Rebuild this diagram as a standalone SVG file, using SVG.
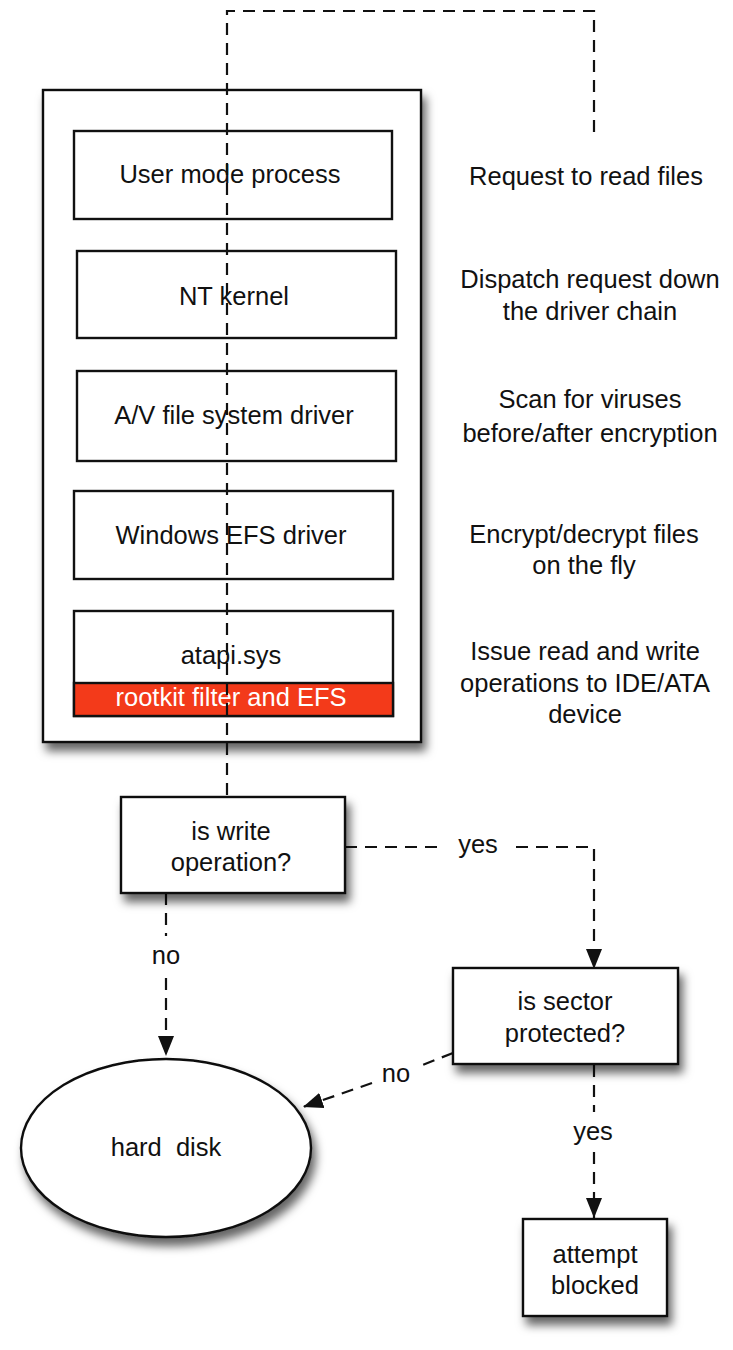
<svg xmlns="http://www.w3.org/2000/svg" width="733" height="1350" viewBox="0 0 733 1350">
<style>
.t{font-family:"Liberation Sans",Arial,sans-serif;font-size:25.5px;fill:#111;text-anchor:middle}
.w{fill:#fff}
.box{fill:#fff;stroke:#111;stroke-width:2.4}
.dash{fill:none;stroke:#111;stroke-width:2.2;stroke-dasharray:12 8}
</style>
<defs>
<filter id="sh" x="-20%" y="-20%" width="150%" height="150%">
<feDropShadow dx="4" dy="8" stdDeviation="5" flood-color="#000" flood-opacity="0.6"/>
</filter>
<marker id="ah" markerUnits="userSpaceOnUse" markerWidth="20" markerHeight="16" refX="20" refY="8" orient="auto">
<path d="M0,0 L20,8 L0,16 z" fill="#111"/>
</marker>
</defs>
<g id="stack">
<rect class="box" x="43" y="90" width="378" height="652" filter="url(#sh)"/>
</g>
<g id="user-mode">
<rect class="box" x="74" y="131" width="318" height="88"/>
<text class="t" x="230" y="183">User mode process</text>
</g>
<g id="nt-kernel">
<rect class="box" x="77" y="251" width="319" height="87"/>
<text class="t" x="234" y="305">NT kernel</text>
</g>
<g id="av-driver">
<rect class="box" x="77" y="371" width="319" height="90"/>
<text class="t" x="234" y="424">A/V file system driver</text>
</g>
<g id="efs-driver">
<rect class="box" x="74" y="491" width="319" height="88"/>
<text class="t" x="231" y="544">Windows EFS driver</text>
</g>
<g id="atapi">
<rect class="box" x="74" y="611" width="319" height="105"/>
<rect x="74" y="683" width="319" height="33" fill="#f33a1a" stroke="#111" stroke-width="2.4"/>
<text class="t" x="231" y="664">atapi.sys</text>
<text class="t w" x="231" y="706">rootkit filter and EFS</text>
</g>
<g id="connectors">
<path class="dash" d="M594,132 V11 H227 V797"/>
<path class="dash" d="M345,847 H440"/>
<path class="dash" d="M516,847 H594 V969" marker-end="url(#ah)"/>
<path class="dash" d="M166,893 V936"/>
<path class="dash" d="M166,978 V1056" marker-end="url(#ah)"/>
<path class="dash" d="M453,1053 L420,1066"/>
<path class="dash" d="M372,1083 L303,1107" marker-end="url(#ah)"/>
<path class="dash" d="M594,1065 V1112"/>
<path class="dash" d="M594,1152 V1218" marker-end="url(#ah)"/>
</g>
<g id="labels">
<text class="t" x="586" y="185">Request to read files</text>
<text class="t" x="590" y="288">Dispatch request down</text>
<text class="t" x="590" y="320">the driver chain</text>
<text class="t" x="590" y="408">Scan for viruses</text>
<text class="t" x="590" y="442">before/after encryption</text>
<text class="t" x="584" y="543">Encrypt/decrypt files</text>
<text class="t" x="584" y="574">on the fly</text>
<text class="t" x="585" y="660">Issue read and write</text>
<text class="t" x="585" y="692">operations to IDE/ATA</text>
<text class="t" x="585" y="723">device</text>
<text class="t" x="478" y="853">yes</text>
<text class="t" x="166" y="964">no</text>
<text class="t" x="396" y="1082">no</text>
<text class="t" x="593" y="1140">yes</text>
</g>
<g id="is-write">
<rect class="box" x="121" y="797" width="224" height="96" filter="url(#sh)"/>
<text class="t" x="231" y="840">is write</text>
<text class="t" x="231" y="871">operation?</text>
</g>
<g id="is-sector">
<rect class="box" x="453" y="968" width="225" height="96" filter="url(#sh)"/>
<text class="t" x="565" y="1010">is sector</text>
<text class="t" x="565" y="1042">protected?</text>
</g>
<g id="hard-disk">
<ellipse cx="166" cy="1148" rx="145" ry="89" fill="#fff" stroke="#111" stroke-width="2.4" filter="url(#sh)"/>
<text class="t" x="166" y="1156">hard&#160; disk</text>
</g>
<g id="attempt-blocked">
<rect class="box" x="523" y="1219" width="144" height="97" filter="url(#sh)"/>
<text class="t" x="595" y="1263">attempt</text>
<text class="t" x="595" y="1294">blocked</text>
</g>
</svg>
